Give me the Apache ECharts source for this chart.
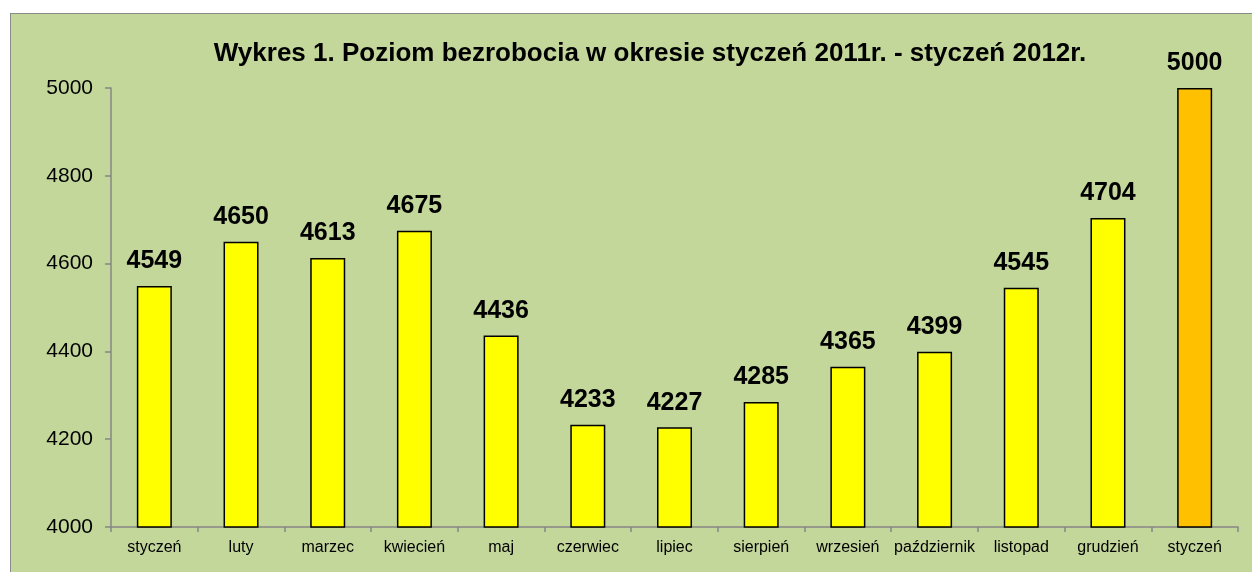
<!DOCTYPE html>
<html>
<head>
<meta charset="utf-8">
<script src="https://cdn.jsdelivr.net/npm/echarts@6/dist/echarts.min.js"></script>
<style>
  html, body { margin: 0; padding: 0; background: #ffffff; }
  #frame {
    position: absolute; left: 10px; top: 13px; width: 1260px; height: 580px;
    background: #C4D79B; border: 1px solid #8a8a8a; box-sizing: border-box;
  }
  #chart { position: absolute; left: 0; top: 0; width: 1252px; height: 572px; }
</style>
</head>
<body>
<div id="frame"></div>
<div id="chart"></div>
<script>
// miesiące styczeń 2011 - styczeń 2012
var months = ['styczeń', 'luty', 'marzec', 'kwiecień', 'maj', 'czerwiec', 'lipiec',
  'sierpień', 'wrzesień', 'październik', 'listopad', 'grudzień', 'styczeń'];
var values = [4549, 4650, 4613, 4675, 4436, 4233, 4227, 4285, 4365, 4399, 4545, 4704, 5000];

var myChart = echarts.init(document.getElementById('chart'));

var option = {
  backgroundColor: 'transparent',
  title: {
    text: 'Wykres 1. Poziom bezrobocia w okresie styczeń 2011r. - styczeń 2012r.',
    left: 645,
    textAlign: 'center',
    top: 36,
    textStyle: {
      fontFamily: 'Liberation Sans, Arial, sans-serif',
      fontSize: 26,
      fontWeight: 'bold',
      color: '#000'
    }
  },
  grid: {
    left: 111,
    right: 14,
    top: 88,
    bottom: 45
  },
  xAxis: {
    type: 'category',
    data: months,
    axisLine: { lineStyle: { color: '#868686', width: 1.5 } },
    axisTick: { show: true, alignWithLabel: false, length: 5, lineStyle: { color: '#868686', width: 1.5 } },
    axisLabel: {
      interval: 0,
      margin: 13,
      color: '#000',
      fontFamily: 'Liberation Sans, Arial, sans-serif',
      fontSize: 16
    }
  },
  yAxis: {
    type: 'value',
    min: 4000,
    max: 5000,
    interval: 200,
    splitLine: { show: false },
    axisLine: { show: true, lineStyle: { color: '#868686', width: 1.5 } },
    axisTick: { show: true, length: 6, lineStyle: { color: '#868686', width: 1.5 } },
    axisLabel: {
      margin: 18,
      color: '#000',
      fontFamily: 'Liberation Sans, Arial, sans-serif',
      fontSize: 21,
      formatter: function (v) { return String(v); }
    }
  },
  series: [{
    type: 'bar',
    barWidth: 35,
    data: values.map(function (v, i) {
      return {
        value: v,
        itemStyle: { color: i === values.length - 1 ? '#FFC000' : '#FFFF00' }
      };
    }),
    itemStyle: { borderColor: '#000', borderWidth: 1.5 },
    label: {
      show: true,
      position: 'top',
      distance: 12,
      color: '#000',
      fontFamily: 'Liberation Sans, Arial, sans-serif',
      fontSize: 25,
      fontWeight: 'bold'
    }
  }]
};

myChart.setOption(option);
</script>
</body>
</html>
